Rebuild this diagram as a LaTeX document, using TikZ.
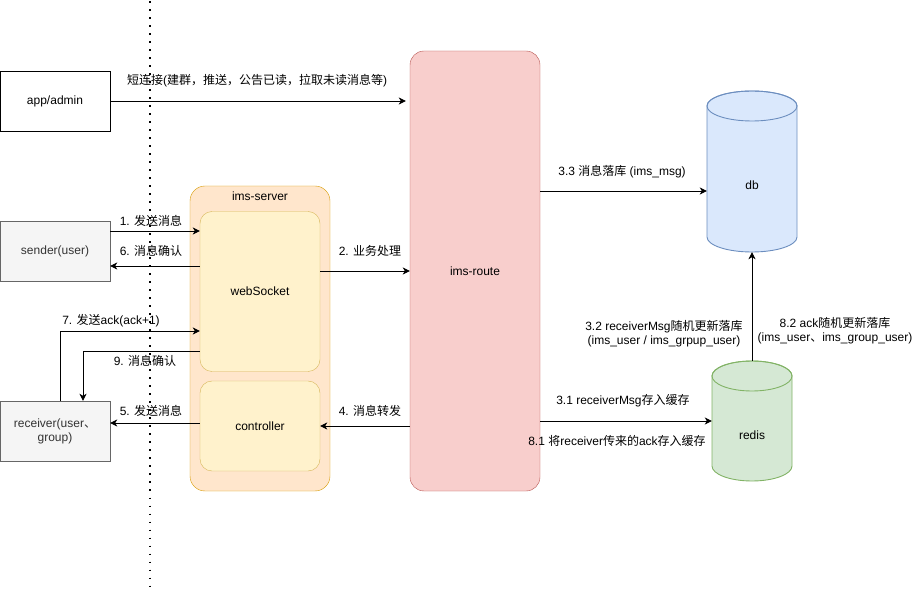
\documentclass[tikz,border=0pt]{standalone}
\usepackage{fontspec}
\setmainfont{Liberation Sans}
\newfontfamily\cjk{Noto Sans CJK SC}
\usetikzlibrary{arrows.meta}
\definecolor{routefill}{HTML}{F8CECC}
\definecolor{routeline}{HTML}{B85450}
\definecolor{srvfill}{HTML}{FFE6CC}
\definecolor{srvline}{HTML}{D79B00}
\definecolor{wsfill}{HTML}{FFF2CC}
\definecolor{wsline}{HTML}{D6B656}
\definecolor{dbfill}{HTML}{DAE8FC}
\definecolor{dbline}{HTML}{6C8EBF}
\definecolor{rdfill}{HTML}{D5E8D4}
\definecolor{rdline}{HTML}{82B366}
\definecolor{grayfill}{HTML}{F5F5F5}
\definecolor{grayline}{HTML}{666666}
\definecolor{graytext}{HTML}{333333}

\begin{document}
\begin{tikzpicture}[x=1pt, y=-1pt, >={Stealth[length=7pt, width=7pt, inset=2pt]}]
\tikzstyle{every node}=[inner sep=1pt, font=\fontsize{12}{14}\selectfont, align=center]
\tikzstyle{client}=[draw=grayline, fill=grayfill, text=graytext, minimum width=110, minimum height=60]
\tikzstyle{part}=[draw=wsline, fill=wsfill, rounded corners=12pt, minimum width=120]
\tikzstyle{arr}=[->, line width=0.9pt]
\useasboundingbox (0,0) rectangle (921,593);

\node[draw, minimum width=110, minimum height=60] (app) at (55,101) {app/admin};
\node[client] (sender) at (55,251) {sender(user)};
\node[client] (receiver) at (55,431) {receiver(user{\cjk 、}\\group)};

\node[draw=srvline, fill=srvfill, rounded corners=15pt, minimum width=140, minimum height=305] (server) at (260,338.5) {};
\node (srvname) at (260,196) {ims-server};
\node[part, minimum height=160] (ws) at (260,291.5) {webSocket};
\node[part, minimum height=90] (ctrl) at (260,426) {controller};

\node[draw=routeline, fill=routefill, rounded corners=14pt, minimum width=130, minimum height=440] (route) at (475,271) {ims-route};

\draw[dbline, fill=dbfill, line width=0.9pt] (707,106) -- (707,237) arc[start angle=180, end angle=0, x radius=45, y radius=15] -- (797,106) arc[start angle=0, end angle=-180, x radius=45, y radius=15] -- cycle;
\draw[dbline, line width=0.9pt] (752,106) ellipse[x radius=45, y radius=15];
\node[minimum width=90, minimum height=161] (db) at (752,171.5) {};
\node (dbname) at (752,185) {db};

\draw[rdline, fill=rdfill, line width=0.9pt] (712,376) -- (712,466) arc[start angle=180, end angle=0, x radius=40, y radius=15] -- (792,376) arc[start angle=0, end angle=-180, x radius=40, y radius=15] -- cycle;
\draw[rdline, line width=0.9pt] (752,376) ellipse[x radius=40, y radius=15];
\node[minimum width=80, minimum height=120] (redis) at (752,421) {};
\node (redisname) at (752,435) {redis};

\path[arr]
(app.east) edge ([xshift=-4pt]route.west |- app.east)
(sender.east |- 0,231) edge (ws.west |- 0,231)
(ws.west |- 0,266) edge (sender.east |- 0,266)
(ws.east |- 0,271) edge (route.west |- 0,271)
(ctrl.west |- 0,423) edge (receiver.east |- 0,423)
(route.west |- 0,426) edge (ctrl.east |- 0,426)
(route.east |- 0,191) edge (db.west |- 0,191)
(route.east |- 0,421) edge (redis.west |- 0,421)
(redis.north) edge (db.south);
\draw[arr] ([xshift=5pt]receiver.north) |- (ws.west |- 0,331);
\draw[arr] (ws.west |- 0,351) -| ([xshift=28pt]receiver.north);

\node (lapp) at (257,81) {{\cjk 短连接}({\cjk 建群，推送，公告已读，拉取未读消息等})};
\node (l1) at (151,221) {1. {\cjk 发送消息}};
\node (l6) at (151,251) {6. {\cjk 消息确认}};
\node (l2) at (370,251) {2. {\cjk 业务处理}};
\node (l7) at (111,321) {7. {\cjk 发送}ack(ack+1)};
\node (l9) at (145,361) {9. {\cjk 消息确认}};
\node (l5) at (151,411) {5. {\cjk 发送消息}};
\node (l4) at (370,411) {4. {\cjk 消息转发}};
\node (l33) at (622,172) {3.3 {\cjk 消息落库} (ims\_msg)};
\node (l31) at (623,401) {3.1 receiverMsg{\cjk 存入缓存}};
\node (l81) at (617,441) {8.1 {\cjk 将}receiver{\cjk 传来的}ack{\cjk 存入缓存}};
\node (l32) at (664,334) {3.2 receiverMsg{\cjk 随机更新落库}\\(ims\_user / ims\_grpup\_user)};
\node (l82) at (835,331) {8.2 ack{\cjk 随机更新落库}\\(ims\_user{\cjk 、}ims\_group\_user)};

\draw[line width=1.6pt, dash pattern=on 1.6pt off 6.4pt, dash phase=-1.5pt] (150,0) -- (150,593);
\end{tikzpicture}
\end{document}
